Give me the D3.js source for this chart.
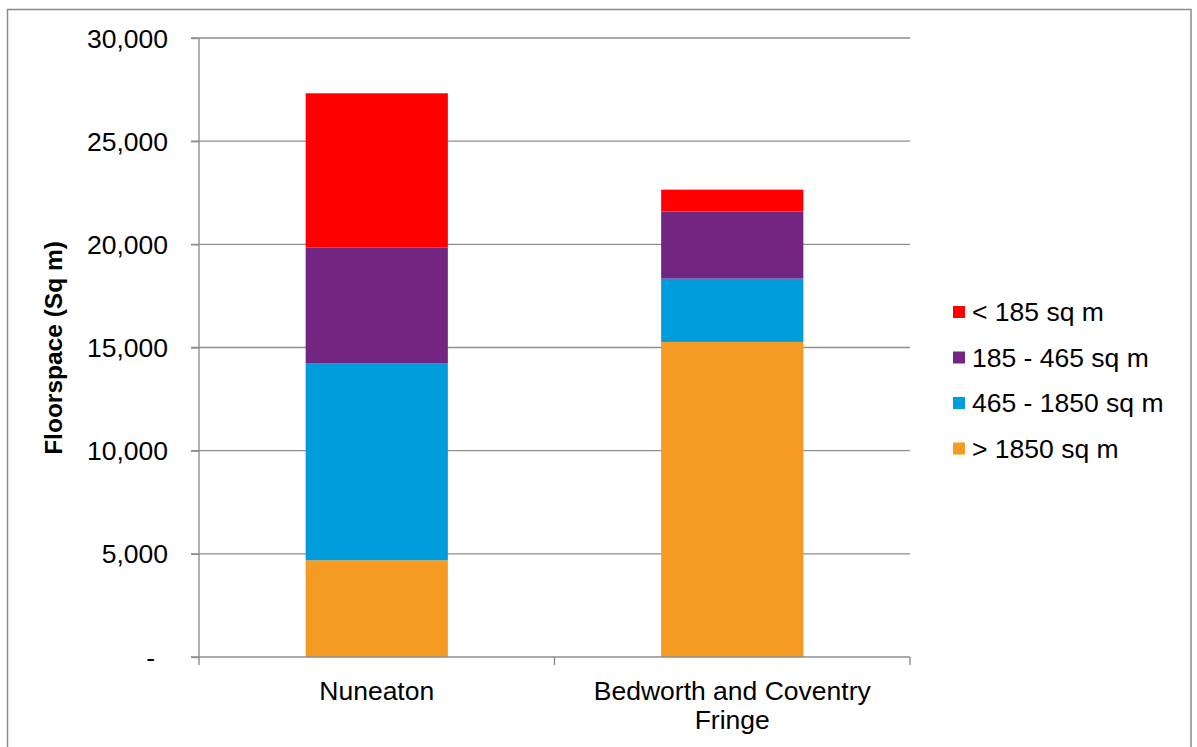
<!DOCTYPE html>
<html>
<head>
<meta charset="utf-8">
<script src="https://cdn.jsdelivr.net/npm/d3@7"></script>
<style>
  html, body { margin: 0; padding: 0; background: #fff; }
  svg { display: block; font-family: "Liberation Sans", Arial, sans-serif; }
</style>
</head>
<body>
<svg id="chart" width="1197" height="747"></svg>
<script>
// Retail floorspace by unit size band
const categories = [["Nuneaton"], ["Bedworth and Coventry", "Fringe"]];
const categoryKeys = ["Nuneaton", "Bedworth and Coventry Fringe"];
const seriesNames = ["> 1850 sq m", "465 - 1850 sq m", "185 - 465 sq m", "< 185 sq m"];
const over1850 = [4690, 15270];
const from465to1850 = [9530, 3070];
const from185to465 = [5620, 3250];
const under185 = [7480, 1060];
const seriesColors = ["#F59A23", "#009DDC", "#722581", "#FF0000"];
const yTicks = [0, 5000, 10000, 15000, 20000, 25000, 30000];

const seriesValues = [over1850, from465to1850, from185to465, under185];
const rows = categoryKeys.map((k, i) => {
  const r = { key: k };
  seriesNames.forEach((s, j) => { r[s] = seriesValues[j][i]; });
  return r;
});

const svg = d3.select("#chart");
const plot = { left: 199, right: 910, top: 38, bottom: 657 };
const fontSize = 26.5;

const x = d3.scaleBand().domain(categoryKeys)
  .range([plot.left, plot.right]).paddingInner(0.6).paddingOuter(0.3);
const y = d3.scaleLinear().domain([0, 30000]).range([plot.bottom, plot.top]);

// outer frame
svg.append("rect").attr("x", 7.5).attr("y", 9.5).attr("width", 1183.5).attr("height", 760)
  .attr("fill", "none").attr("stroke", "#8a8a8a").attr("stroke-width", 1.5);

// gridlines
svg.append("g").selectAll("line").data(yTicks.slice(1)).join("line")
  .attr("x1", plot.left - 8).attr("x2", plot.right)
  .attr("y1", d => y(d)).attr("y2", d => y(d))
  .attr("stroke", "#8e8e8e").attr("stroke-width", 1.4);

// stacked bars
const stack = d3.stack().keys(seriesNames)(rows);
svg.append("g").selectAll("g").data(stack).join("g")
  .attr("fill", (d, i) => seriesColors[i])
  .selectAll("rect").data(d => d).join("rect")
  .attr("x", d => x(d.data.key))
  .attr("width", x.bandwidth())
  .attr("y", d => y(d[1]))
  .attr("height", d => y(d[0]) - y(d[1]));

// y axis
const yAxis = d3.axisLeft(y).tickValues(yTicks).tickSize(8)
  .tickFormat(d => d === 0 ? "-" : d3.format(",")(d));
const gy = svg.append("g").attr("transform", `translate(${plot.left},0)`).call(yAxis);
gy.select(".domain").attr("stroke", "#8e8e8e").attr("stroke-width", 1.4).attr("d", `M0,${plot.top}V${plot.bottom}`);
gy.selectAll(".tick line").attr("stroke", "#8e8e8e").attr("stroke-width", 1.4);
gy.selectAll(".tick text").attr("font-size", fontSize).attr("fill", "#000")
  .attr("x", d => d === 0 ? -44 : -31).attr("dy", "0.34em")
  .style("font-family", "'Liberation Sans', Arial, sans-serif");

// x axis line and category ticks
svg.append("line").attr("x1", plot.left - 8).attr("x2", plot.right)
  .attr("y1", plot.bottom).attr("y2", plot.bottom)
  .attr("stroke", "#8e8e8e").attr("stroke-width", 1.4);
const step = x.step();
const boundaries = [plot.left, plot.left + step, plot.right];
svg.append("g").selectAll("line").data(boundaries).join("line")
  .attr("x1", d => d).attr("x2", d => d)
  .attr("y1", plot.bottom).attr("y2", plot.bottom + 8)
  .attr("stroke", "#8e8e8e").attr("stroke-width", 1.4);

// category labels
const cl = svg.append("g").selectAll("text").data(categories).join("text")
  .attr("text-anchor", "middle").attr("font-size", fontSize).attr("fill", "#000")
  .attr("x", (d, i) => x(categoryKeys[i]) + x.bandwidth() / 2)
  .attr("y", 700);
cl.selectAll("tspan").data(d => d).join("tspan")
  .attr("x", function() { return d3.select(this.parentNode).attr("x"); })
  .attr("dy", (d, i) => i === 0 ? 0 : 29)
  .text(d => d);

// y axis title
svg.append("text")
  .attr("transform", "translate(62,348) rotate(-90)")
  .attr("text-anchor", "middle").attr("font-size", 24.5).attr("font-weight", "bold")
  .attr("fill", "#000").text("Floorspace (Sq m)");

// legend, top entry is the last series
const legendOrder = seriesNames.map((s, i) => i).reverse();
const lg = svg.append("g").selectAll("g").data(legendOrder).join("g")
  .attr("transform", (d, i) => `translate(953,${312 + i * 45.5})`);
lg.append("rect").attr("x", 0).attr("y", -6).attr("width", 12).attr("height", 12)
  .attr("fill", d => seriesColors[d]);
lg.append("text").attr("x", 19).attr("dy", "0.35em").attr("font-size", fontSize).attr("fill", "#000")
  .text(d => seriesNames[d]);
</script>
</body>
</html>
